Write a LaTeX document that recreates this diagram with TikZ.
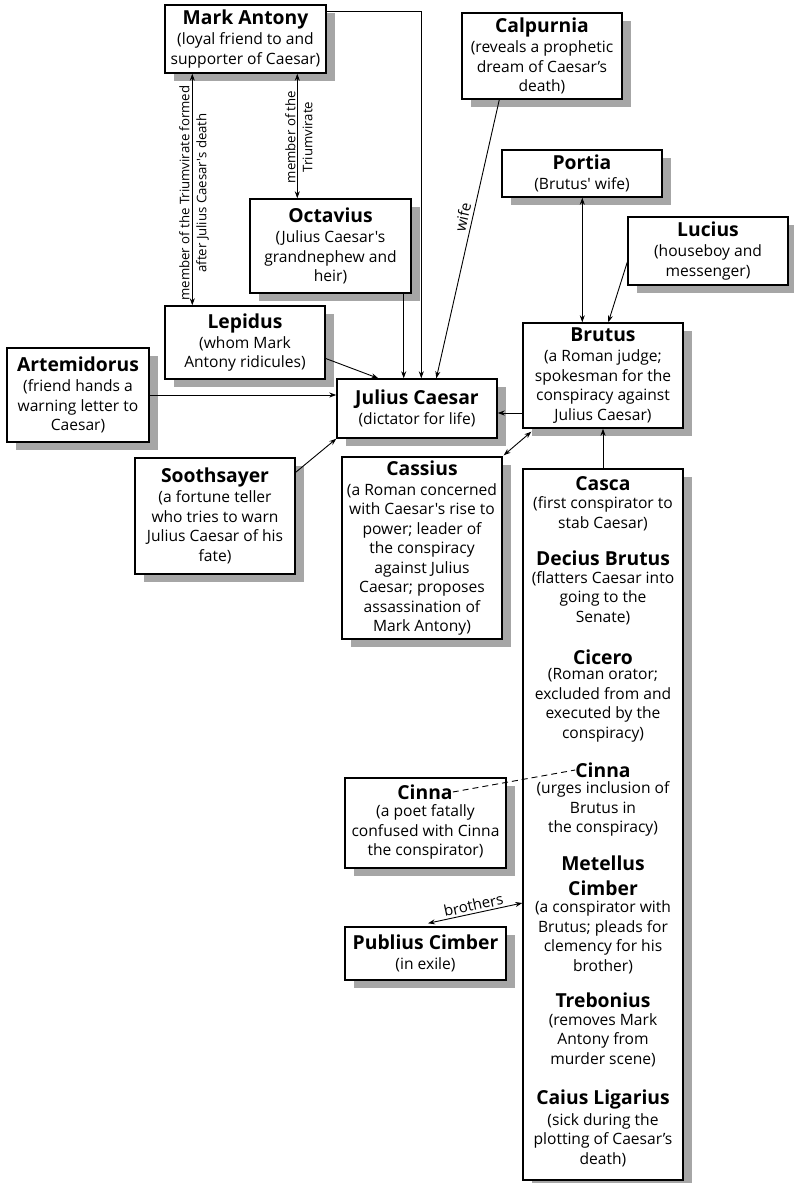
\documentclass[tikz,border=0pt]{standalone}
\usepackage{fontspec}
\setmainfont{Open Sans}[Ligatures=TeXOff]
\usetikzlibrary{arrows.meta,shadows,calc}
\definecolor{shad}{HTML}{A6A6A6}
\newcommand\bodyf{\fontsize{15.6}{19.5}\selectfont}
\newcommand\smallf{\fontsize{13.2}{17}\selectfont}
\newcommand\lblf{\fontsize{15}{18}\selectfont}
\newcommand\titf{\fontsize{19.3}{22}\selectfont\bfseries}
\newcommand\titbf{\fontsize{19.3}{25}\selectfont\bfseries}
\newcommand\ttl[1]{{\titf #1}\\[0.5pt]}
\begin{document}
\begin{tikzpicture}[x=1pt,y=-1pt,
 box/.style={draw, line width=1.4pt, fill=white, align=center, inner sep=0pt, font=\bodyf,
   drop shadow={shadow xshift=9pt,shadow yshift=-8pt,fill=shad,opacity=1}},
 txt/.style={align=center, inner sep=0pt, font=\bodyf},
 tt/.style={align=center, inner sep=0pt, font=\titf},
 lbl/.style={align=center, inner sep=1pt, font=\smallf},
 elbl/.style={inner sep=3.5pt, font=\lblf},
 conn/.style={line width=0.9pt, -{Stealth[length=7pt,width=5pt]}},
 conn2/.style={line width=0.9pt, {Stealth[length=7pt,width=5pt]}-{Stealth[length=7pt,width=5pt]}},
]
\useasboundingbox (0,0) rectangle (793,1183);

% boxes
\node[box, minimum width=161pt, minimum height=68pt] (ma) at (245.5,39) {\ttl{Mark Antony}(loyal friend to and\\supporter of Caesar)};
\node[box, minimum width=161pt, minimum height=94pt] (oct) at (330.5,246) {\ttl{Octavius}(Julius Caesar's\\grandnephew and\\heir)};
\node[box, minimum width=160pt, minimum height=73pt] (lep) at (245,342.5) {\ttl{Lepidus}(whom Mark\\Antony ridicules)};
\node[box, minimum width=142pt, minimum height=94pt] (art) at (78,395) {\ttl{Artemidorus}(friend hands a\\warning letter to\\Caesar)};
\node[box, minimum width=160pt, minimum height=59pt] (jc) at (417,408.5) {\ttl{Julius Caesar}(dictator for life)};
\node[box, minimum width=160pt, minimum height=116pt] (sooth) at (215,516) {\ttl{Soothsayer}(a fortune teller\\who tries to warn\\Julius Caesar of his\\fate)};
\node[box, minimum width=160pt, minimum height=182pt] (cas) at (422,548) {\ttl{Cassius}(a Roman concerned\\with Caesar's rise to\\power; leader of\\the conspiracy\\against Julius\\Caesar; proposes\\assassination of\\Mark Antony)};
\node[box, minimum width=160pt, minimum height=86pt] (cal) at (542,56) {\ttl{Calpurnia}(reveals a prophetic\\dream of Caesar’s\\death)};
\node[box, minimum width=160pt, minimum height=47pt] (por) at (582,173.5) {\ttl{Portia}(Brutus' wife)};
\node[box, minimum width=160pt, minimum height=68pt] (luc) at (708,251) {\ttl{Lucius}(houseboy and\\messenger)};
\node[box, minimum width=160pt, minimum height=105pt] (bru) at (603,375.5) {\ttl{Brutus}(a Roman judge;\\spokesman for the\\conspiracy against\\Julius Caesar)};
\node[box, minimum width=160pt, minimum height=711pt] (con) at (603,824.5) {};
\node[box, minimum width=161pt, minimum height=90pt] (cinp) at (425.5,823) {};
\node[box, minimum width=161pt, minimum height=53pt] (pub) at (425.5,953.5) {\ttl{Publius Cimber}(in exile)};

% Cinna the poet
\node[tt] (cinpT) at (425,792) {Cinna};
\node[txt] (cinpB) at (425.5,832) {(a poet fatally\\confused with Cinna\\the conspirator)};

% conspirators
\node[tt] (cascaT) at (603,484) {Casca};
\node[txt] (cascaB) at (603,514) {(first conspirator to\\stab Caesar)};
\node[tt] (decT) at (603,558) {Decius Brutus};
\node[txt] (decB) at (603,598) {(flatters Caesar into\\going to the\\Senate)};
\node[tt] (cicT) at (603,657) {Cicero};
\node[txt] (cicB) at (603,705.5) {(Roman orator;\\excluded from and\\executed by the\\conspiracy)};
\node[tt] (cinT) at (603,770) {Cinna};
\node[txt] (cinB) at (603,809) {(urges inclusion of\\Brutus in\\the conspiracy)};
\node[tt, font=\titbf] (metT) at (603,875.5) {Metellus\\Cimber};
\node[txt] (metB) at (603,937.5) {(a conspirator with\\Brutus; pleads for\\clemency for his\\brother)};
\node[tt] (treT) at (603,1000) {Trebonius};
\node[txt] (treB) at (603,1040) {(removes Mark\\Antony from\\murder scene)};
\node[tt] (caiT) at (603,1099) {Caius Ligarius};
\node[txt] (caiB) at (603,1140) {(sick during the\\plotting of Caesar’s\\death)};

% connectors
\draw[conn2] ([xshift=28pt]ma.south west) -- ([xshift=28pt]lep.north west);
\node[lbl, rotate=90] (l1) at (194,193) {member of the Triumvirate formed\\after Julius Caesar's death};
\draw[conn2] ([xshift=133pt]ma.south west) -- ([xshift=48pt]oct.north west);
\node[lbl, rotate=90] (l2) at (299,137) {member of the\\Triumvirate};
\draw[conn] ([yshift=-7pt]ma.north east) -| ([xshift=85pt]jc.north west);
\draw[conn] ([xshift=-8pt]oct.south east) -- ([xshift=-8pt]oct.south east |- jc.north);
\draw[conn] ([xshift=38pt]cal.south west) -- node[pos=0.43, sloped, above, elbl] (wife) {wife} ([xshift=100pt]jc.north west);
\draw[conn] ([yshift=-16pt]lep.east) -- ([xshift=42pt]jc.north west);
\draw[conn] (art.east) -- (art.east -| jc.west);
\draw[conn] ([yshift=-15pt]sooth.north east) -- (jc.south west);
\draw[conn] ([yshift=-37.5pt]bru.west) -- ([yshift=-37.5pt]bru.west -| jc.east);
\draw[conn2] ([xshift=9pt,yshift=-3pt]bru.south west) -- ([xshift=1pt,yshift=1pt]cas.north east);
\draw[conn] (con.north) -- (bru.south);
\draw[conn2] ([xshift=81pt]por.south west) -- ([xshift=60pt]bru.north west);
\draw[conn] ([yshift=-11pt]luc.west) -- ([xshift=86pt]bru.north west);
\draw[line width=0.9pt, dash pattern=on 6pt off 4pt] (cinpT.east) -- (cinT.west);
\draw[conn2] ([yshift=-78.5pt]con.west) -- node[midway, sloped, above, elbl, inner sep=2pt] (bro) {brothers} ([xshift=2.5pt,yshift=3pt]pub.north);
\end{tikzpicture}
\end{document}
